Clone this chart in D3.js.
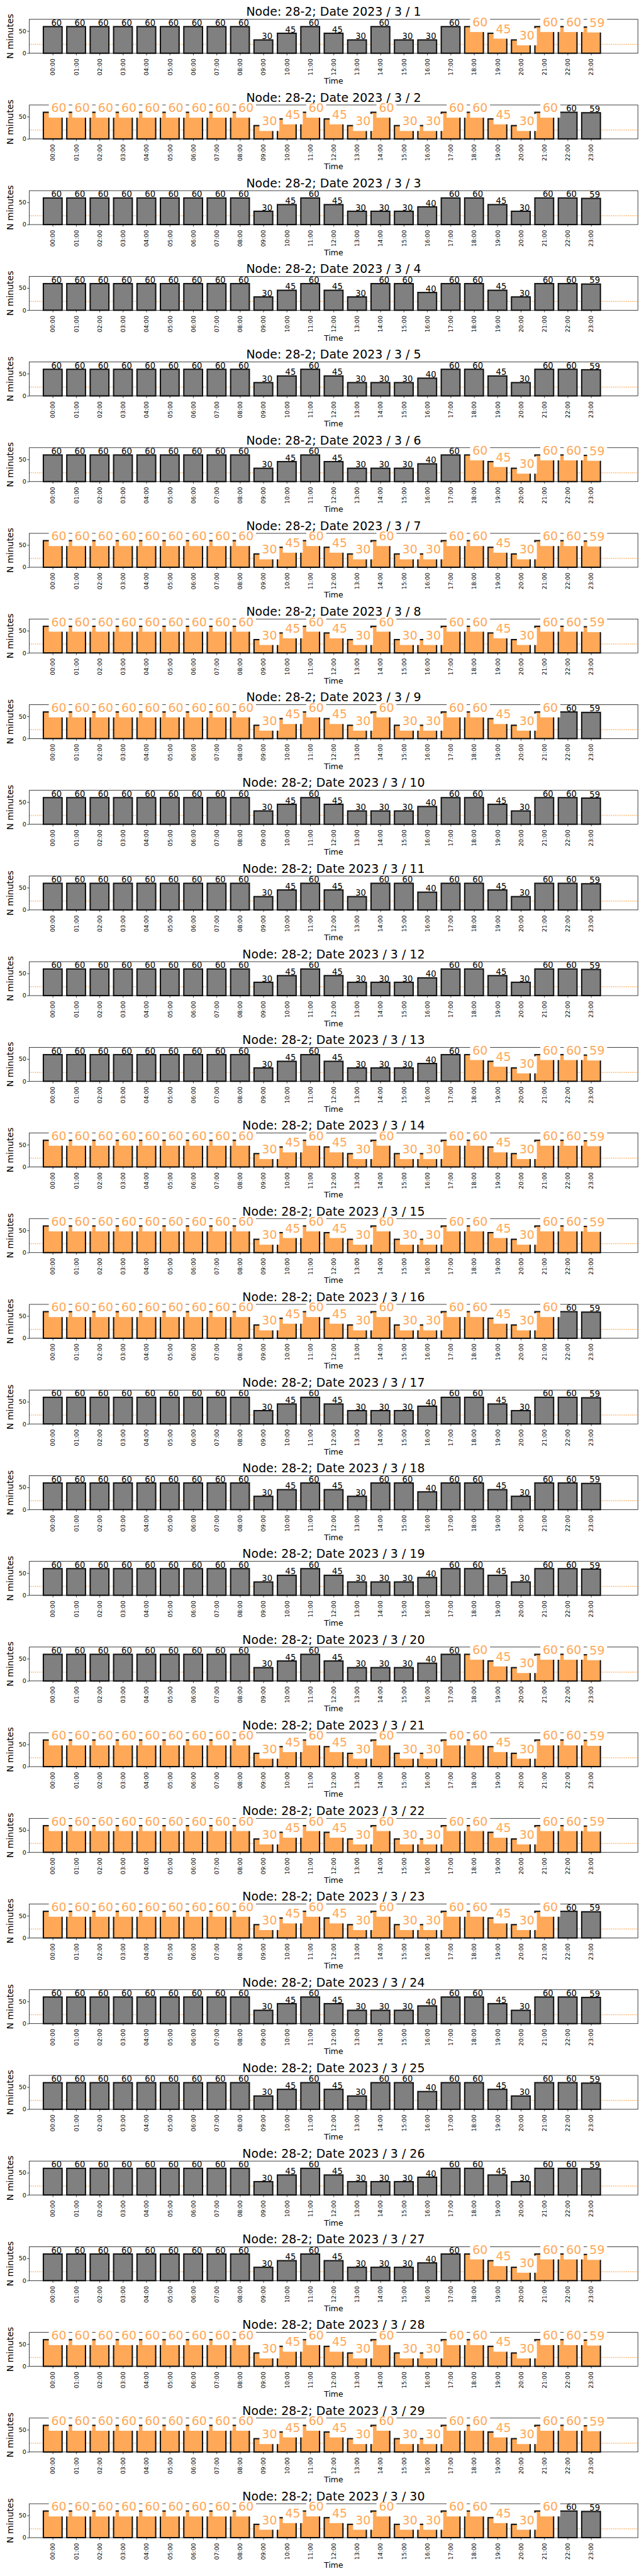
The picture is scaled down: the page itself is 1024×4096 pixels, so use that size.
<!DOCTYPE html>
<html><head><meta charset="utf-8">
<script src="https://cdn.jsdelivr.net/npm/d3@7"></script>
<style>body{margin:0;background:#fff}svg{display:block}text{font-family:"DejaVu Sans",sans-serif}</style>
</head><body>
<div id="chart"></div>
<script>
// ---------------- data ----------------
const nodeName = "28-2";
const year = 2023;
const month = 3;
const dayNumbers = [1,2,3,4,5,6,7,8,9,10,11,12,13,14,15,16,17,18,19,20,21,22,23,24,25,26,27,28,29,30];
const hourLabels = ["00:00","01:00","02:00","03:00","04:00","05:00","06:00","07:00","08:00","09:00","10:00","11:00",
                    "12:00","13:00","14:00","15:00","16:00","17:00","18:00","19:00","20:00","21:00","22:00","23:00"];
// minutes per hour, one list per day
const minutesByDay = [
  [60,60,60,60,60,60,60,60,60,30,45,60,45,30,60,30,30,60,60,45,30,60,60,59],
  [60,60,60,60,60,60,60,60,60,30,45,60,45,30,60,30,30,60,60,45,30,60,60,59],
  [60,60,60,60,60,60,60,60,60,30,45,60,45,30,30,30,40,60,60,45,30,60,60,59],
  [60,60,60,60,60,60,60,60,60,30,45,60,45,30,60,60,40,60,60,45,30,60,60,59],
  [60,60,60,60,60,60,60,60,60,30,45,60,45,30,30,30,40,60,60,45,30,60,60,59],
  [60,60,60,60,60,60,60,60,60,30,45,60,45,30,30,30,40,60,60,45,30,60,60,59],
  [60,60,60,60,60,60,60,60,60,30,45,60,45,30,60,30,30,60,60,45,30,60,60,59],
  [60,60,60,60,60,60,60,60,60,30,45,60,45,30,60,30,30,60,60,45,30,60,60,59],
  [60,60,60,60,60,60,60,60,60,30,45,60,45,30,60,30,30,60,60,45,30,60,60,59],
  [60,60,60,60,60,60,60,60,60,30,45,60,45,30,30,30,40,60,60,45,30,60,60,59],
  [60,60,60,60,60,60,60,60,60,30,45,60,45,30,60,60,40,60,60,45,30,60,60,59],
  [60,60,60,60,60,60,60,60,60,30,45,60,45,30,30,30,40,60,60,45,30,60,60,59],
  [60,60,60,60,60,60,60,60,60,30,45,60,45,30,30,30,40,60,60,45,30,60,60,59],
  [60,60,60,60,60,60,60,60,60,30,45,60,45,30,60,30,30,60,60,45,30,60,60,59],
  [60,60,60,60,60,60,60,60,60,30,45,60,45,30,60,30,30,60,60,45,30,60,60,59],
  [60,60,60,60,60,60,60,60,60,30,45,60,45,30,60,30,30,60,60,45,30,60,60,59],
  [60,60,60,60,60,60,60,60,60,30,45,60,45,30,30,30,40,60,60,45,30,60,60,59],
  [60,60,60,60,60,60,60,60,60,30,45,60,45,30,60,60,40,60,60,45,30,60,60,59],
  [60,60,60,60,60,60,60,60,60,30,45,60,45,30,30,30,40,60,60,45,30,60,60,59],
  [60,60,60,60,60,60,60,60,60,30,45,60,45,30,30,30,40,60,60,45,30,60,60,59],
  [60,60,60,60,60,60,60,60,60,30,45,60,45,30,60,30,30,60,60,45,30,60,60,59],
  [60,60,60,60,60,60,60,60,60,30,45,60,45,30,60,30,30,60,60,45,30,60,60,59],
  [60,60,60,60,60,60,60,60,60,30,45,60,45,30,60,30,30,60,60,45,30,60,60,59],
  [60,60,60,60,60,60,60,60,60,30,45,60,45,30,30,30,40,60,60,45,30,60,60,59],
  [60,60,60,60,60,60,60,60,60,30,45,60,45,30,60,60,40,60,60,45,30,60,60,59],
  [60,60,60,60,60,60,60,60,60,30,45,60,45,30,30,30,40,60,60,45,30,60,60,59],
  [60,60,60,60,60,60,60,60,60,30,45,60,45,30,30,30,40,60,60,45,30,60,60,59],
  [60,60,60,60,60,60,60,60,60,30,45,60,45,30,60,30,30,60,60,45,30,60,60,59],
  [60,60,60,60,60,60,60,60,60,30,45,60,45,30,60,30,30,60,60,45,30,60,60,59],
  [60,60,60,60,60,60,60,60,60,30,45,60,45,30,60,30,30,60,60,45,30,60,60,59]
];
// highlighted (orange) hour range per day, inclusive; null = none
const highlightFrom = [18,0,null,null,null,18,0,0,0,null,null,null,18,0,0,0,null,null,null,18,0,0,0,null,null,null,18,0,0,0];
const highlightTo   = [23,21,null,null,null,23,23,23,21,null,null,null,23,23,23,21,null,null,null,23,23,23,21,null,null,null,23,23,23,21];
const yTickValues = [0, 50];
const thresholdMinutes = 20;
const yMax = 76.45;

// ---------------- layout (reference px, scaled by viewBox) ----------------
const W = 1500, H = 6000;
const left = 68.3, right = 1485.7;
const top0 = 45, pitch = 199.54, plotH = 79;
const orange = "#ffa857", grey = "#808080";

const svg = d3.select("#chart").append("svg")
  .attr("width", 1024).attr("height", 4096)
  .attr("viewBox", `0 0 ${W} ${H}`)
  .attr("preserveAspectRatio", "none");
svg.append("rect").attr("width", W).attr("height", H).attr("fill", "#fff");

const x = d3.scaleLinear().domain([-1, 25]).range([left, right]);
const y = d3.scaleLinear().domain([0, yMax]).range([plotH, 0]);
const halfBar = (x(0.8) - x(0)) / 2;

dayNumbers.forEach((day, k) => {
  const vals = minutesByDay[k];
  const hf = highlightFrom[k], ht = highlightTo[k];
  const isHi = i => hf !== null && i >= hf && i <= ht;
  const g = svg.append("g").attr("transform", `translate(0,${top0 + k * pitch})`);

  // threshold dotted line
  g.append("line")
    .attr("x1", left).attr("x2", right)
    .attr("y1", y(thresholdMinutes)).attr("y2", y(thresholdMinutes))
    .attr("stroke", orange).attr("stroke-width", 2.2)
    .attr("stroke-dasharray", "2,2.4");

  // bars
  g.selectAll("rect.bar").data(vals).join("rect")
    .attr("class", "bar")
    .attr("x", (d, i) => x(i) - halfBar)
    .attr("width", halfBar * 2)
    .attr("y", d => y(d))
    .attr("height", d => y(0) - y(d))
    .attr("fill", (d, i) => isHi(i) ? orange : grey)
    .attr("stroke", "#111").attr("stroke-width", 3);

  // axes
  const ya = g.append("g").attr("transform", `translate(${left},0)`)
    .call(d3.axisLeft(y).tickValues(yTickValues).tickSize(5).tickPadding(2));
  ya.select(".domain").remove();
  ya.selectAll("text").attr("font-size", 13.9).attr("font-family", "DejaVu Sans").attr("fill", "#000");
  ya.selectAll("line").attr("stroke-width", 1.1);

  const xa = g.append("g").attr("transform", `translate(0,${plotH})`)
    .call(d3.axisBottom(x).tickValues(d3.range(24)).tickFormat(i => hourLabels[i]).tickSize(5));
  xa.select(".domain").remove();
  xa.selectAll("line").attr("stroke-width", 1.1);
  xa.selectAll("text")
    .attr("font-size", 13.6).attr("font-family", "DejaVu Sans").attr("fill", "#000")
    .attr("transform", "rotate(-90)")
    .attr("text-anchor", "end")
    .attr("x", -12.5).attr("y", 0).attr("dy", "0.35em");

  // frame
  g.append("rect").attr("x", left).attr("y", 0)
    .attr("width", right - left).attr("height", plotH)
    .attr("fill", "none").attr("stroke", "#000").attr("stroke-width", 1.1);

  // value labels
  vals.forEach((v, i) => {
    const tx = x(i) - 3.6;
    if (isHi(i)) {
      const fs = 27.8;
      const base = y(v) - 0.5;
      const bx = g.append("rect").attr("fill", "#fff");
      const t = g.append("text").attr("x", tx).attr("y", base)
        .attr("font-size", fs).attr("fill", orange).text(v);
      const w = t.node().getComputedTextLength();
      const pad = 5.56;
      bx.attr("x", tx - pad).attr("width", w + 2 * pad)
        .attr("y", base - 0.76 * fs - pad)
        .attr("height", 0.76 * fs + 0.27 * fs + 2 * pad);
    } else {
      g.append("text").attr("x", tx).attr("y", y(v) - 2)
        .attr("font-size", 19.4).attr("fill", "#000").text(v);
    }
  });

  // titles
  g.append("text").attr("x", (left + right) / 2).attr("y", -7.7)
    .attr("text-anchor", "middle").attr("font-size", 27.8)
    .text(`Node: ${nodeName}; Date ${year} / ${month} / ${day}`);
  g.append("text").attr("transform", `translate(30.7,${plotH / 2}) rotate(-90)`)
    .attr("text-anchor", "middle").attr("font-size", 20.5).text("N minutes");
  g.append("text").attr("x", (left + right) / 2).attr("y", 150)
    .attr("text-anchor", "middle").attr("font-size", 18.3).text("Time");
});
</script>
</body></html>
